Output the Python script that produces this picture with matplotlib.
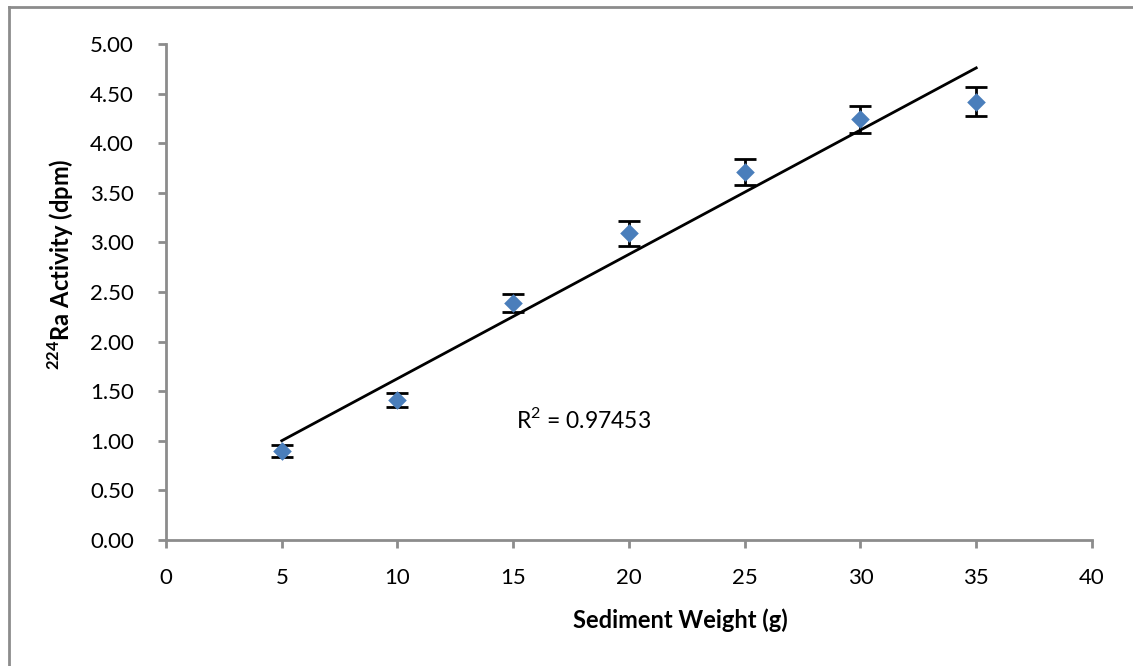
import matplotlib.pyplot as plt
from matplotlib import ticker
from matplotlib.lines import Line2D
import numpy as np

# data
weight = [5, 10, 15, 20, 25, 30, 35]
activity = [0.90, 1.41, 2.39, 3.09, 3.71, 4.24, 4.42]
activity_err = [0.06, 0.07, 0.09, 0.13, 0.13, 0.14, 0.15]
r2_text = 'R$^2$ = 0.97453'

plt.rcParams['font.family'] = ['Lato', 'DejaVu Sans']
plt.rcParams['mathtext.fontset'] = 'custom'
plt.rcParams['mathtext.rm'] = 'Lato'
plt.rcParams['mathtext.bf'] = 'Lato:bold'

fig = plt.figure(figsize=(11.33, 6.66), dpi=100)
ax = fig.add_axes([0.1465, 0.1892, 0.8173, 0.7447])

# grey outer frame (only left/top visible in the reference)
fx, fy = 9 / 1133, 1 - 7 / 666
fig.lines.append(Line2D([fx, fx], [0, fy], transform=fig.transFigure,
                        color='#8c8c8c', linewidth=2))
fig.lines.append(Line2D([fx, 1], [fy, fy], transform=fig.transFigure,
                        color='#8c8c8c', linewidth=2))

# trendline fitted through the points
slope, icpt = np.polyfit(weight, activity, 1)
xs = np.array([min(weight), max(weight)])
ax.plot(xs, slope * xs + icpt, color='k', linewidth=2, zorder=2)

ax.errorbar(weight, activity, yerr=activity_err, fmt='none', ecolor='k',
            elinewidth=2, capsize=8, capthick=2, zorder=3)
ax.scatter(weight, activity, marker='D', s=90, color='#4a7ebb', zorder=4,
           linewidths=0)

ax.text(15.1, 1.21, r2_text, fontsize=16.5, va='center', ha='left')

ax.set_xlim(0, 40)
ax.set_ylim(0, 5)
ax.xaxis.set_major_locator(ticker.MultipleLocator(5))
ax.yaxis.set_major_locator(ticker.MultipleLocator(0.5))
ax.yaxis.set_major_formatter(ticker.FormatStrFormatter('%.2f'))

for side in ['top', 'right']:
    ax.spines[side].set_visible(False)
for side in ['left', 'bottom']:
    ax.spines[side].set_color('#8c8c8c')
    ax.spines[side].set_linewidth(2)
ax.tick_params(axis='both', direction='out', length=6, width=2,
               color='#8c8c8c', labelsize=16)
ax.tick_params(axis='y', pad=17)
ax.tick_params(axis='x', pad=14)

ax.set_xlabel('Sediment Weight (g)', fontsize=17, fontweight='bold', va='center')
ax.set_ylabel(r'$^{\mathbf{224}}$Ra Activity (dpm)', fontsize=17,
              fontweight='bold', va='center')
ax.xaxis.set_label_coords(0.556, -80 / 496)
ax.yaxis.set_label_coords(-105 / 926, 0.556)

fig.savefig('out.png', dpi=100)
plt.close()
